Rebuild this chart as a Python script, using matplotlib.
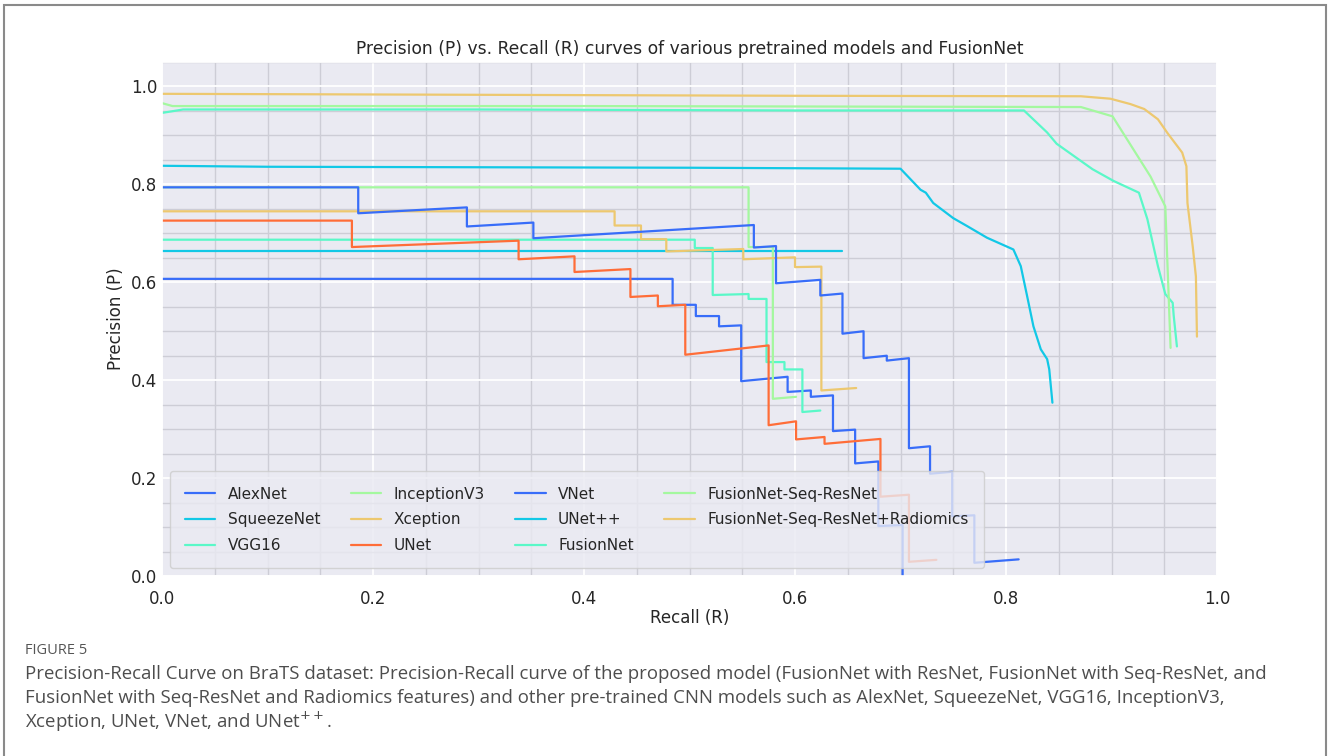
import numpy as np
import matplotlib
matplotlib.use("Agg")
import matplotlib.pyplot as plt
import seaborn as sns
from matplotlib.ticker import MultipleLocator
from matplotlib.patches import Rectangle

# PR curve vertices
models = ['AlexNet', 'SqueezeNet', 'VGG16', 'InceptionV3', 'Xception', 'UNet',
          'VNet', 'UNet++', 'FusionNet', 'FusionNet-Seq-ResNet',
          'FusionNet-Seq-ResNet+Radiomics']

alexnet_r = [0, 0.484, 0.484, 0.506, 0.506, 0.528, 0.528, 0.549, 0.549, 0.593, 0.593,
             0.615, 0.615, 0.636, 0.636, 0.657, 0.657, 0.679, 0.679, 0.702, 0.702]
alexnet_p = [0.607, 0.607, 0.554, 0.554, 0.531, 0.531, 0.510, 0.512, 0.398, 0.407, 0.376,
             0.379, 0.366, 0.369, 0.296, 0.299, 0.230, 0.234, 0.102, 0.104, 0.0]

squeezenet_r = [0, 0.645]
squeezenet_p = [0.663, 0.663]

vgg16_r = [0, 0.505, 0.505, 0.522, 0.522, 0.556, 0.556, 0.573, 0.573, 0.590, 0.590,
           0.607, 0.607, 0.624]
vgg16_p = [0.687, 0.687, 0.670, 0.670, 0.574, 0.576, 0.566, 0.566, 0.437, 0.437, 0.422,
           0.422, 0.335, 0.338]

inception_r = [0, 0.556, 0.556, 0.579, 0.579, 0.601]
inception_p = [0.794, 0.794, 0.672, 0.672, 0.362, 0.366]

xception_r = [0, 0.429, 0.429, 0.454, 0.454, 0.478, 0.478, 0.551, 0.551, 0.600, 0.600,
              0.625, 0.625, 0.658]
xception_p = [0.745, 0.745, 0.716, 0.716, 0.688, 0.688, 0.663, 0.668, 0.647, 0.651, 0.631,
              0.632, 0.379, 0.384]

unet_r = [0, 0.180, 0.180, 0.338, 0.338, 0.391, 0.391, 0.444, 0.444, 0.470, 0.470, 0.496,
          0.496, 0.575, 0.575, 0.601, 0.601, 0.628, 0.628, 0.681, 0.681, 0.708, 0.708, 0.734]
unet_p = [0.726, 0.726, 0.672, 0.685, 0.647, 0.653, 0.621, 0.627, 0.570, 0.573, 0.551, 0.554,
          0.452, 0.471, 0.308, 0.316, 0.279, 0.284, 0.270, 0.280, 0.162, 0.166, 0.029, 0.033]

vnet_r = [0, 0.186, 0.186, 0.289, 0.289, 0.352, 0.352, 0.561, 0.561, 0.582, 0.582, 0.624,
          0.624, 0.645, 0.645, 0.665, 0.665, 0.687, 0.687, 0.708, 0.708, 0.728, 0.728,
          0.749, 0.749, 0.770, 0.770, 0.812]
vnet_p = [0.794, 0.794, 0.741, 0.753, 0.714, 0.722, 0.690, 0.717, 0.671, 0.674, 0.598, 0.605,
          0.573, 0.577, 0.495, 0.500, 0.445, 0.450, 0.440, 0.445, 0.261, 0.265, 0.209,
          0.213, 0.122, 0.124, 0.027, 0.034]

unetpp_r = [0, 0.1, 0.3, 0.5, 0.700, 0.719, 0.724, 0.731, 0.750, 0.763, 0.782, 0.807,
            0.814, 0.820, 0.826, 0.833, 0.839, 0.841, 0.844]
unetpp_p = [0.838, 0.836, 0.835, 0.834, 0.832, 0.789, 0.783, 0.762, 0.731, 0.715, 0.691,
            0.667, 0.633, 0.572, 0.510, 0.463, 0.443, 0.422, 0.354]

fusion_r = [0, 0.02, 0.3, 0.6, 0.817, 0.839, 0.848, 0.882, 0.902, 0.926, 0.934, 0.944,
            0.951, 0.958, 0.959, 0.962]
fusion_p = [0.946, 0.953, 0.953, 0.951, 0.951, 0.906, 0.883, 0.831, 0.807, 0.783, 0.729,
            0.633, 0.576, 0.558, 0.531, 0.469]

seq_r = [0, 0.01, 0.4, 0.871, 0.901, 0.937, 0.951, 0.956]
seq_p = [0.966, 0.960, 0.960, 0.958, 0.939, 0.816, 0.755, 0.466]

rad_r = [0, 0.3, 0.6, 0.871, 0.899, 0.918, 0.931, 0.944, 0.953, 0.967, 0.971, 0.972,
         0.977, 0.980, 0.981]
rad_p = [0.985, 0.983, 0.981, 0.980, 0.975, 0.964, 0.954, 0.933, 0.905, 0.865, 0.837,
         0.762, 0.673, 0.612, 0.489]

curves = [(alexnet_r, alexnet_p), (squeezenet_r, squeezenet_p), (vgg16_r, vgg16_p),
          (inception_r, inception_p), (xception_r, xception_p), (unet_r, unet_p),
          (vnet_r, vnet_p), (unetpp_r, unetpp_p), (fusion_r, fusion_p),
          (seq_r, seq_p), (rad_r, rad_p)]

caption_lines = [
    "Precision-Recall Curve on BraTS dataset: Precision-Recall curve of the proposed model "
    "(FusionNet with ResNet, FusionNet with Seq-ResNet, and",
    "FusionNet with Seq-ResNet and Radiomics features) and other pre-trained CNN models "
    "such as AlexNet, SqueezeNet, VGG16, InceptionV3,",
    "Xception, UNet, VNet, and UNet$^{++}$.",
]

sns.set_theme(style="darkgrid")
colors = sns.color_palette("rainbow", 6)

fig = plt.figure(figsize=(13.28, 7.56), dpi=100)
ax = fig.add_axes([162/1328, 1 - 576/756, (1217 - 162)/1328, (576 - 62)/756])

for i, (name, (r, p)) in enumerate(zip(models, curves)):
    ax.plot(r, p, color=colors[i % 6], linewidth=1.6, label=name)

ax.set_xlim(0, 1.0)
ax.set_ylim(0, 1.05)
ax.xaxis.set_major_locator(MultipleLocator(0.2))
ax.yaxis.set_major_locator(MultipleLocator(0.2))
ax.xaxis.set_minor_locator(MultipleLocator(0.05))
ax.yaxis.set_minor_locator(MultipleLocator(0.05))
ax.grid(which='major', color='white', linewidth=1.3)
ax.grid(which='minor', color='#cdcdd6', linewidth=1.0)
ax.tick_params(which='both', length=0, labelsize=12)
ax.tick_params(axis='x', pad=10)

ax.set_title('Precision (P) vs. Recall (R) curves of various pretrained models and FusionNet',
             fontsize=12.3)
ax.set_xlabel('Recall (R)', fontsize=12, labelpad=1)
ax.set_ylabel('Precision (P)', fontsize=12)
ax.legend(loc='lower left', ncol=4, fontsize=11, borderpad=1.0, labelspacing=0.7)

# journal frame and caption
fig.patches.append(Rectangle((4/1328, -0.05), 1322/1328, 1.05 - 5/756, transform=fig.transFigure,
                             fill=False, edgecolor='#8a8a8a', linewidth=1.5))
fig.text(25/1328, 1 - 650/756, 'FIGURE 5', fontsize=10.5, color='#555555',
         family='Open Sans', va='center')
for k, line in enumerate(caption_lines):
    fig.text(25/1328, 1 - (674 + 24*k)/756, line, fontsize=13.4, color='#4d4d4d',
             family='Open Sans', va='center')

fig.savefig('out.png', dpi=100)
